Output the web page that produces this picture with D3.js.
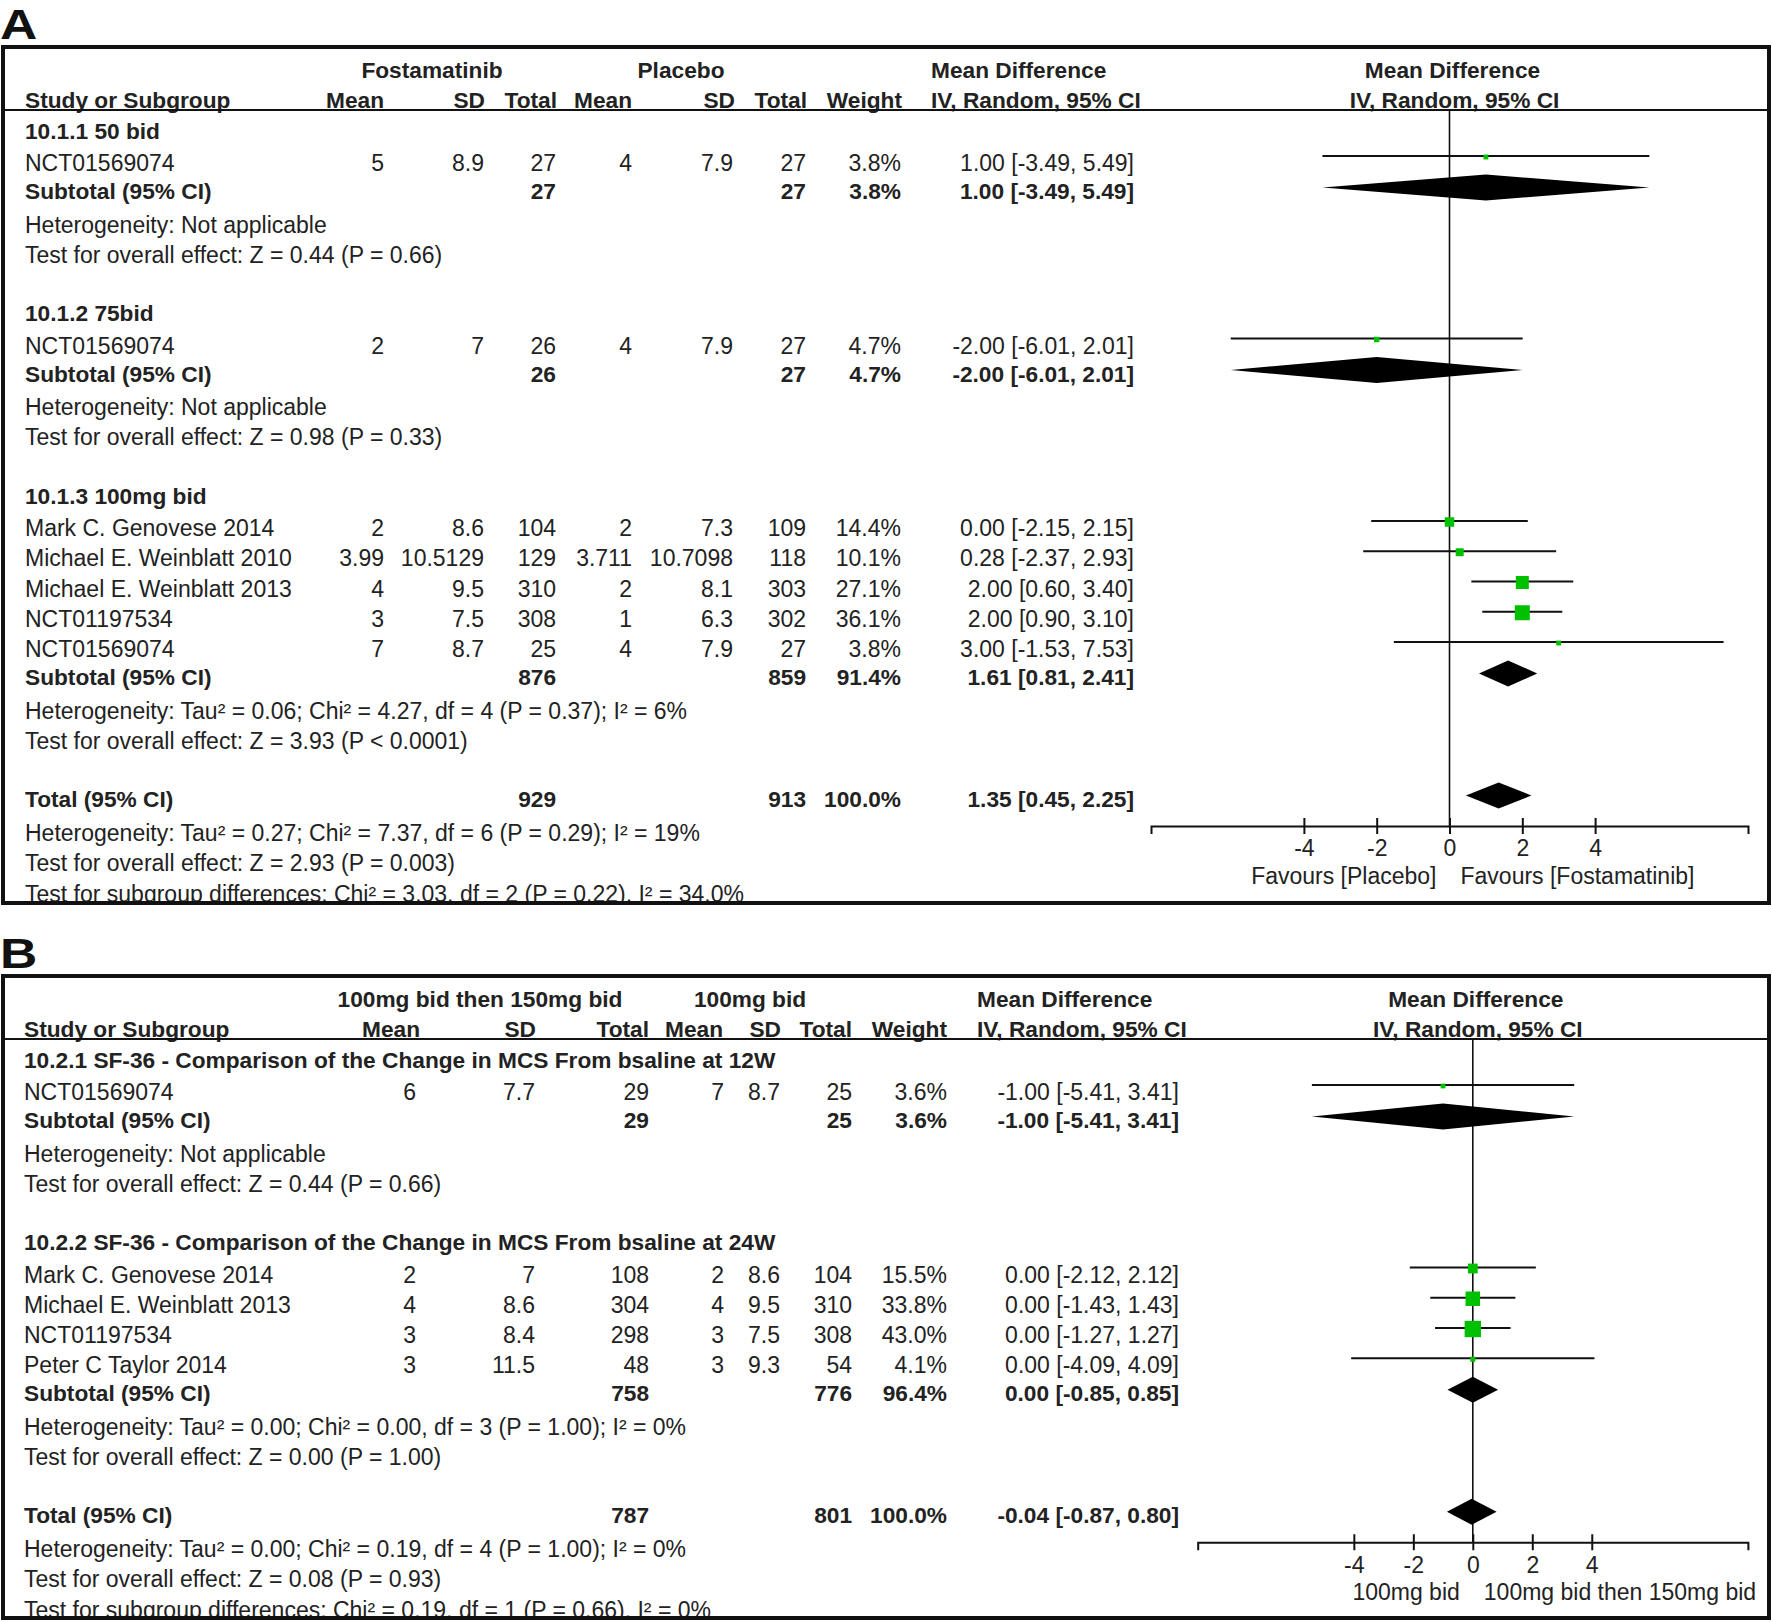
<!DOCTYPE html>
<html>
<head>
<meta charset="utf-8">
<title>Forest plots A and B</title>
<script src="https://cdn.jsdelivr.net/npm/d3@7"></script>
<style>
  body { margin: 0; background: #fff; }
  svg text { font-family: "Liberation Sans", Arial, sans-serif; font-size: 23px; fill: #222; }
</style>
</head>
<body>
<script>
// ---------- panel A data ----------
const studyA = ["NCT01569074", "NCT01569074", "Mark C. Genovese 2014", "Michael E. Weinblatt 2010",
                "Michael E. Weinblatt 2013", "NCT01197534", "NCT01569074"];
const groupA = [0, 1, 2, 2, 2, 2, 2];
const expMeanA = ["5", "2", "2", "3.99", "4", "3", "7"];
const expSdA = ["8.9", "7", "8.6", "10.5129", "9.5", "7.5", "8.7"];
const expNA = [27, 26, 104, 129, 310, 308, 25];
const ctlMeanA = ["4", "4", "2", "3.711", "2", "1", "4"];
const ctlSdA = ["7.9", "7.9", "7.3", "10.7098", "8.1", "6.3", "7.9"];
const ctlNA = [27, 27, 109, 118, 303, 302, 27];
const weightA = [3.8, 4.7, 14.4, 10.1, 27.1, 36.1, 3.8];
const mdA = [1.00, -2.00, 0.00, 0.28, 2.00, 2.00, 3.00];
const loA = [-3.49, -6.01, -2.15, -2.37, 0.60, 0.90, -1.53];
const hiA = [5.49, 2.01, 2.15, 2.93, 3.40, 3.10, 7.53];

const subNameA = ["10.1.1 50 bid", "10.1.2 75bid", "10.1.3 100mg bid"];
const subExpNA = [27, 26, 876];
const subCtlNA = [27, 27, 859];
const subWeightA = [3.8, 4.7, 91.4];
const subMdA = [1.00, -2.00, 1.61];
const subLoA = [-3.49, -6.01, 0.81];
const subHiA = [5.49, 2.01, 2.41];
const subHetA = ["Heterogeneity: Not applicable", "Heterogeneity: Not applicable",
                 "Heterogeneity: Tau² = 0.06; Chi² = 4.27, df = 4 (P = 0.37); I² = 6%"];
const subTestA = ["Test for overall effect: Z = 0.44 (P = 0.66)", "Test for overall effect: Z = 0.98 (P = 0.33)",
                  "Test for overall effect: Z = 3.93 (P < 0.0001)"];
const totalNA = [929, 913];
const totalCiA = [1.35, 0.45, 2.25];
const totalTextA = ["Heterogeneity: Tau² = 0.27; Chi² = 7.37, df = 6 (P = 0.29); I² = 19%",
                    "Test for overall effect: Z = 2.93 (P = 0.003)",
                    "Test for subgroup differences: Chi² = 3.03, df = 2 (P = 0.22), I² = 34.0%"];
const armsA = ["Fostamatinib", "Placebo"];
const favoursA = ["Favours [Placebo]", "Favours [Fostamatinib]"];

// ---------- panel B data ----------
const studyB = ["NCT01569074", "Mark C. Genovese 2014", "Michael E. Weinblatt 2013", "NCT01197534", "Peter C Taylor 2014"];
const groupB = [0, 1, 1, 1, 1];
const expMeanB = ["6", "2", "4", "3", "3"];
const expSdB = ["7.7", "7", "8.6", "8.4", "11.5"];
const expNB = [29, 108, 304, 298, 48];
const ctlMeanB = ["7", "2", "4", "3", "3"];
const ctlSdB = ["8.7", "8.6", "9.5", "7.5", "9.3"];
const ctlNB = [25, 104, 310, 308, 54];
const weightB = [3.6, 15.5, 33.8, 43.0, 4.1];
const mdB = [-1.00, 0.00, 0.00, 0.00, 0.00];
const loB = [-5.41, -2.12, -1.43, -1.27, -4.09];
const hiB = [3.41, 2.12, 1.43, 1.27, 4.09];

const subNameB = ["10.2.1 SF-36 - Comparison of the Change in MCS From bsaline at 12W",
                  "10.2.2 SF-36 - Comparison of the Change in MCS From bsaline at 24W"];
const subExpNB = [29, 758];
const subCtlNB = [25, 776];
const subWeightB = [3.6, 96.4];
const subMdB = [-1.00, 0.00];
const subLoB = [-5.41, -0.85];
const subHiB = [3.41, 0.85];
const subHetB = ["Heterogeneity: Not applicable",
                 "Heterogeneity: Tau² = 0.00; Chi² = 0.00, df = 3 (P = 1.00); I² = 0%"];
const subTestB = ["Test for overall effect: Z = 0.44 (P = 0.66)", "Test for overall effect: Z = 0.00 (P = 1.00)"];
const totalNB = [787, 801];
const totalCiB = [-0.04, -0.87, 0.80];
const totalTextB = ["Heterogeneity: Tau² = 0.00; Chi² = 0.19, df = 4 (P = 1.00); I² = 0%",
                    "Test for overall effect: Z = 0.08 (P = 0.93)",
                    "Test for subgroup differences: Chi² = 0.19, df = 1 (P = 0.66), I² = 0%"];
const armsB = ["100mg bid then 150mg bid", "100mg bid"];
const favoursB = ["100mg bid", "100mg bid then 150mg bid"];

const colHeads = ["Study or Subgroup", "Mean", "SD", "Total", "Mean", "SD", "Total", "Weight"];
const tickVals = [-4, -2, 0, 2, 4];

const W = 1772, H = 1622;
const green = "#00c000";
const ci = (m, l, h) => m.toFixed(2) + " [" + l.toFixed(2) + ", " + h.toFixed(2) + "]";
const boxSize = d3.scaleSqrt().domain([0, 36.1]).range([0, 15]);

const svg = d3.select("body").append("svg")
    .attr("width", W).attr("height", H);

function panel(p) {
    const g = svg.append("g");
    const top = p.top, bottom = p.bottom;
    const cx = p.cols;

    // panel letter
    g.append("text").text(p.letter)
        .attr("transform", `translate(0,${top - 8}) scale(1.2,1)`)
        .style("font-size", "43px").style("font-weight", "bold").style("fill", "#111");

    const clipId = "clip" + p.letter;
    g.append("clipPath").attr("id", clipId)
        .append("rect").attr("x", 0).attr("y", top).attr("width", W).attr("height", bottom - top - 2);
    const tg = g.append("g").attr("clip-path", "url(#" + clipId + ")");

    const txt = (s, x, yc, anchor, bold) => tg.append("text").text(s)
        .attr("x", x).attr("y", yc + 6.5)
        .attr("text-anchor", anchor || "start")
        .style("font-weight", bold ? "bold" : "normal")
        .style("font-size", bold ? "22.7px" : "23px");

    // headers
    const h1 = top + 24, h2 = top + 54, lineY = top + 63;
    txt(p.arms[0], p.armX[0], h1, "middle", true);
    txt(p.arms[1], p.armX[1], h1, "middle", true);
    txt("Mean Difference", p.mdX, h1, "start", true);
    txt("IV, Random, 95% CI", p.mdX, h2, "start", true);
    colHeads.forEach((h, i) => txt(h, i === 0 ? cx[0] : p.headCols[i], h2, i === 0 ? "start" : "end", true));

    const x = d3.scaleLinear().domain(p.domain).range(p.range);
    const x0 = x(0);
    txt("Mean Difference", x0 + 3, h1, "middle", true);
    txt("IV, Random, 95% CI", x0 + 5, h2, "middle", true);

    g.append("line").attr("x1", 3).attr("x2", W - 3).attr("y1", lineY).attr("y2", lineY)
        .attr("stroke", "#111").attr("stroke-width", 2);

    // row layout
    let y = top + 85;
    const marks = [], diamonds = [];
    p.subName.forEach((name, gi) => {
        txt(name, cx[0], y, "start", true);
        y += 32.5;
        const idx = p.group.map((v, i) => v === gi ? i : -1).filter(i => i >= 0);
        idx.forEach((i, k) => {
            if (k > 0) y += 30.25;
            txt(p.study[i], cx[0], y);
            const vals = [p.expMean[i], p.expSd[i], p.expN[i], p.ctlMean[i], p.ctlSd[i], p.ctlN[i],
                          p.weight[i].toFixed(1) + "%", ci(p.md[i], p.lo[i], p.hi[i])];
            vals.forEach((v, j) => txt(v, cx[j + 1], y, "end"));
            marks.push({y: y - 8.5, md: p.md[i], lo: p.lo[i], hi: p.hi[i], w: p.weight[i]});
        });
        y += 28;
        txt("Subtotal (95% CI)", cx[0], y, "start", true);
        txt(p.subExpN[gi], cx[3], y, "end", true);
        txt(p.subCtlN[gi], cx[6], y, "end", true);
        txt(p.subWeight[gi].toFixed(1) + "%", cx[7], y, "end", true);
        txt(ci(p.subMd[gi], p.subLo[gi], p.subHi[gi]), cx[8], y, "end", true);
        diamonds.push({y: y - 5, md: p.subMd[gi], lo: p.subLo[gi], hi: p.subHi[gi]});
        y += 33.5;
        txt(p.subHet[gi], cx[0], y);
        y += 30;
        txt(p.subTest[gi], cx[0], y);
        y += 58.5;
    });
    txt("Total (95% CI)", cx[0], y, "start", true);
    txt(p.totalN[0], cx[3], y, "end", true);
    txt(p.totalN[1], cx[6], y, "end", true);
    txt("100.0%", cx[7], y, "end", true);
    txt(ci(p.totalCi[0], p.totalCi[1], p.totalCi[2]), cx[8], y, "end", true);
    diamonds.push({y: y - 5, md: p.totalCi[0], lo: p.totalCi[1], hi: p.totalCi[2]});
    y += 33.5;
    const axisY = y - 8;
    txt(p.totalText[0], cx[0], y);
    y += 30;
    txt(p.totalText[1], cx[0], y);
    y += 31;
    txt(p.totalText[2], cx[0], y);

    // zero line
    g.append("line").attr("x1", x0).attr("x2", x0).attr("y1", lineY).attr("y2", axisY)
        .attr("stroke", "#111").attr("stroke-width", 1.6);

    // CI lines and squares
    g.selectAll(".ci").data(marks).enter().append("line")
        .attr("x1", d => x(d.lo)).attr("x2", d => x(d.hi))
        .attr("y1", d => d.y).attr("y2", d => d.y)
        .attr("stroke", "#111").attr("stroke-width", 2);
    g.selectAll(".sq").data(marks).enter().append("rect")
        .attr("x", d => x(d.md) - boxSize(d.w) / 2).attr("y", d => d.y - boxSize(d.w) / 2 + 1)
        .attr("width", d => boxSize(d.w)).attr("height", d => boxSize(d.w))
        .attr("fill", green);

    g.selectAll(".dm").data(diamonds).enter().append("path")
        .attr("d", d => `M${x(d.lo)},${d.y} L${x(d.md)},${d.y - 13} L${x(d.hi)},${d.y} L${x(d.md)},${d.y + 13} Z`)
        .attr("fill", "#000");

    // axis
    const ax = g.append("g").attr("transform", `translate(0,${axisY})`)
        .call(d3.axisBottom(x).tickValues(tickVals).tickSizeOuter(0).tickSize(8).tickFormat(d3.format("d")));
    ax.select(".domain").attr("stroke", "#111").attr("stroke-width", 2);
    ax.selectAll(".tick line").attr("y1", -8).attr("y2", 8).attr("stroke", "#111").attr("stroke-width", 2);
    ax.selectAll(".tick text").text(d => String(d))
        .attr("y", 22).attr("dy", "0.36em")
        .style("font-size", "23px").style("font-family", "'Liberation Sans', Arial, sans-serif")
        .style("fill", "#222");
    txt(p.favours[0], x0 - 13, axisY + 51, "end");
    txt(p.favours[1], x0 + 11, axisY + 51, "start");

    // outer box
    g.append("rect").attr("x", 3).attr("y", top).attr("width", W - 6).attr("height", bottom - top)
        .attr("fill", "none").attr("stroke", "#111").attr("stroke-width", 4);
}

panel({
    letter: "A", top: 47, bottom: 903,
    cols: [25, 384, 484, 556, 632, 733, 806, 901, 1134],
    headCols: [25, 384, 485, 557, 632, 735, 807, 902],
    armX: [432, 681], mdX: 931, arms: armsA, favours: favoursA,
    domain: [-8.2, 8.2], range: [1151, 1748],
    study: studyA, group: groupA, expMean: expMeanA, expSd: expSdA, expN: expNA,
    ctlMean: ctlMeanA, ctlSd: ctlSdA, ctlN: ctlNA, weight: weightA, md: mdA, lo: loA, hi: hiA,
    subName: subNameA, subExpN: subExpNA, subCtlN: subCtlNA, subWeight: subWeightA,
    subMd: subMdA, subLo: subLoA, subHi: subHiA, subHet: subHetA, subTest: subTestA,
    totalN: totalNA, totalCi: totalCiA, totalText: totalTextA
});

panel({
    letter: "B", top: 976, bottom: 1618,
    cols: [24, 416, 535, 649, 724, 780, 852, 947, 1179],
    headCols: [24, 420, 536, 649, 723, 781, 852, 947],
    armX: [480, 750], mdX: 977, arms: armsB, favours: favoursB,
    domain: [-9.25, 9.25], range: [1197.7, 1747.9],
    study: studyB, group: groupB, expMean: expMeanB, expSd: expSdB, expN: expNB,
    ctlMean: ctlMeanB, ctlSd: ctlSdB, ctlN: ctlNB, weight: weightB, md: mdB, lo: loB, hi: hiB,
    subName: subNameB, subExpN: subExpNB, subCtlN: subCtlNB, subWeight: subWeightB,
    subMd: subMdB, subLo: subLoB, subHi: subHiB, subHet: subHetB, subTest: subTestB,
    totalN: totalNB, totalCi: totalCiB, totalText: totalTextB
});
</script>
</body>
</html>
